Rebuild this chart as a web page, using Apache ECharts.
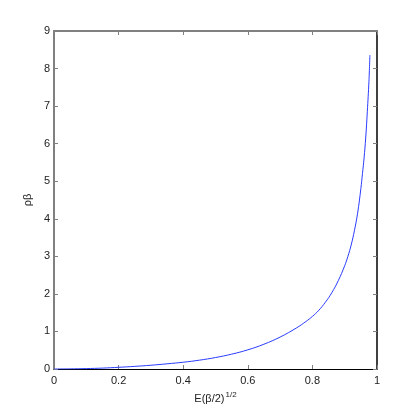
<!DOCTYPE html>
<html>
<head>
<meta charset="utf-8">
<script src="https://cdn.jsdelivr.net/npm/echarts@6/dist/echarts.min.js"></script>
<style>html,body{margin:0;padding:0;background:#fff;}#c{width:415px;height:415px;}</style>
</head>
<body>
<div id="c"></div>
<script>
const xValues = [0, 0.05, 0.1, 0.15, 0.2, 0.25, 0.3, 0.35, 0.4, 0.45, 0.5, 0.55, 0.6, 0.65, 0.7, 0.75, 0.78, 0.8, 0.82, 0.84, 0.86, 0.88, 0.9, 0.91, 0.92, 0.93, 0.94, 0.95, 0.955, 0.96, 0.965, 0.97, 0.975, 0.978];
const yValues = [0, 0.003, 0.011, 0.024, 0.045, 0.07, 0.10, 0.138, 0.18, 0.235, 0.305, 0.395, 0.51, 0.66, 0.85, 1.09, 1.265, 1.40, 1.565, 1.775, 2.03, 2.35, 2.75, 3.00, 3.30, 3.68, 4.15, 4.80, 5.20, 5.62, 6.15, 6.85, 7.65, 8.36];
const xTicks = [0, 0.2, 0.4, 0.6, 0.8, 1];
const yTicks = [0, 1, 2, 3, 4, 5, 6, 7, 8, 9];

const font = 'Liberation Sans, Arial, Helvetica, sans-serif';
const gray = '#808080';
const black = '#000000';

const chart = echarts.init(document.getElementById('c'), null, {renderer: 'canvas'});
const tickCommon = {show: true, inside: true, length: 4};
chart.setOption({
  animation: false,
  backgroundColor: '#ffffff',
  grid: {left: 54, right: 38, top: 31, bottom: 46, containLabel: false},
  xAxis: [
    {
      type: 'value', min: xTicks[0], max: xTicks[xTicks.length - 1], interval: 0.2, position: 'bottom',
      axisLine: {show: true, onZero: false, lineStyle: {color: black, width: 1}},
      axisTick: Object.assign({}, tickCommon, {lineStyle: {color: gray}}),
      axisLabel: {color: '#222', fontFamily: font, fontSize: 11, margin: 6},
      splitLine: {show: false},
      name: '{a|E(β/2)}{s|1/2}',
      nameLocation: 'middle', nameGap: 20,
      nameTextStyle: {
        fontFamily: font, color: '#222', align: 'center',
        rich: {
          a: {fontFamily: font, fontSize: 11, color: '#222', lineHeight: 14, verticalAlign: 'bottom'},
          s: {fontFamily: font, fontSize: 8, color: '#222', lineHeight: 14, verticalAlign: 'top', padding: [0, 0, 0, 1]}
        }
      }
    },
    {
      type: 'value', min: xTicks[0], max: xTicks[xTicks.length - 1], interval: 0.2, position: 'top',
      axisLine: {show: true, onZero: false, lineStyle: {color: gray, width: 2}},
      axisTick: Object.assign({}, tickCommon, {lineStyle: {color: gray}}),
      axisLabel: {show: false},
      splitLine: {show: false}
    }
  ],
  yAxis: [
    {
      type: 'value', min: yTicks[0], max: yTicks[yTicks.length - 1], interval: 1, position: 'left',
      axisLine: {show: true, onZero: false, lineStyle: {color: gray, width: 2}},
      axisTick: Object.assign({}, tickCommon, {lineStyle: {color: gray}}),
      axisLabel: {color: '#222', fontFamily: font, fontSize: 11, margin: 4},
      splitLine: {show: false},
      name: 'ρβ', nameLocation: 'middle', nameGap: 12, nameRotate: 90,
      nameTextStyle: {fontFamily: font, fontSize: 11, color: '#222'}
    },
    {
      type: 'value', min: yTicks[0], max: yTicks[yTicks.length - 1], interval: 1, position: 'right',
      axisLine: {show: true, onZero: false, lineStyle: {color: black, width: 1.5}},
      axisTick: Object.assign({}, tickCommon, {lineStyle: {color: gray}}),
      axisLabel: {show: false},
      splitLine: {show: false}
    }
  ],
  series: [{
    type: 'line',
    xAxisIndex: 0, yAxisIndex: 0,
    data: xValues.map((x, i) => [x, yValues[i]]),
    showSymbol: false,
    smooth: 0.4,
    lineStyle: {color: '#2a3cff', width: 1},
    itemStyle: {color: '#2a3cff'}
  }]
});
</script>
</body>
</html>
